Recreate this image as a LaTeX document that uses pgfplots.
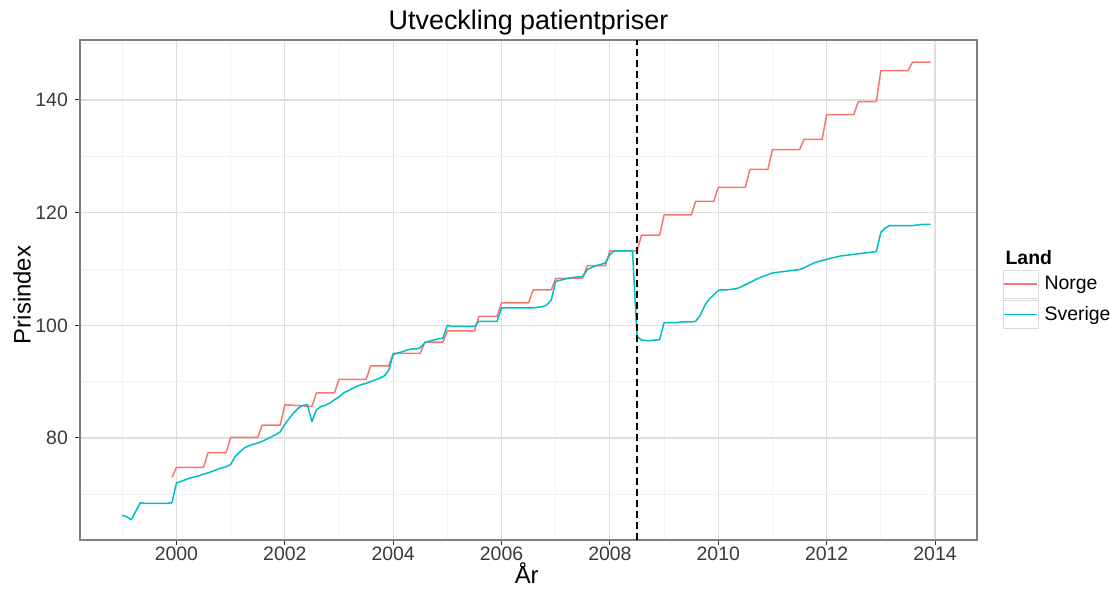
\documentclass[border=0pt]{standalone}
\usepackage{fontspec}
\setmainfont{Liberation Sans}
\usepackage{pgfplots}
\pgfplotsset{compat=1.18}
\definecolor{norge}{HTML}{F8766D}
\definecolor{sverige}{HTML}{00BFC4}
\definecolor{gridmaj}{HTML}{DEDEDE}
\definecolor{gridmin}{HTML}{F3F3F3}
\definecolor{framec}{HTML}{7F7F7F}
\definecolor{ticklab}{HTML}{3A3A3A}
\begin{document}
\begin{tikzpicture}
\path[use as bounding box] (0,0) rectangle (1110bp,590bp);
\begin{axis}[
  scale only axis, width=897bp, height=500bp,
  at={(80bp,50bp)}, anchor=south west,
  xmin=1998.22, xmax=2014.775, ymin=61.89, ymax=150.65,
  xtick={2000,2002,...,2014}, ytick={80,100,120,140},
  minor xtick={1999,2001,...,2013}, minor ytick={70,90,110,130,150},
  grid=both,
  major grid style={gridmaj, line width=1.1bp},
  minor grid style={gridmin, line width=0.8bp},
  axis line style={framec, line width=1.3bp},
  tick pos=left, tick align=outside, major tick length=5bp, minor tick length=0pt,
  major tick style={black!80, line width=1bp},
  x tick label style={/pgf/number format/1000 sep={}},
  /pgf/number format/assume math mode=true,
  ticklabel style={font=\fontsize{19.5}{23}\selectfont, text=ticklab},
  xticklabel style={anchor=north, inner sep=0pt},
  yticklabel style={anchor=east, inner sep=0pt},
  xticklabel shift=2bp, yticklabel shift=7bp,
  title={Utveckling patientpriser},
  title style={font=\fontsize{27}{30}\selectfont, anchor=base, at={(axis description cs:0.5,1)}, yshift=5bp, inner sep=0pt},
  xlabel={År},
  xlabel style={font=\fontsize{24}{28}\selectfont, anchor=base, at={(axis description cs:0.498,-0.088)}, inner sep=0pt},
  ylabel={Prisindex},
  ylabel style={font=\fontsize{24}{28}\selectfont, anchor=center, at={(axis description cs:-0.0647,0.49)}, rotate=0, inner sep=0pt},
  legend style={at={(axis description cs:1.029,0.584)}, anchor=north west, draw=none, fill=none,
    inner sep=0pt, outer sep=0pt, row sep=2bp, column sep=4bp,
    font=\fontsize{19.5}{23}\selectfont},
  legend cell align=left,
  legend image code/.code={
    \draw[draw=gray!30, fill=white, line width=0.6bp, solid] (0bp,-14bp) rectangle (35bp,14bp);
    \draw[#1] (1bp,0bp) -- (34bp,0bp);
  },
]
\addlegendimage{empty legend}
\addlegendentry{\hspace*{-39bp}\textbf{Land}}
\addplot[norge, line width=1.5bp, line join=round] coordinates {
(1999.917,73.0) (2000.000,74.8) (2000.500,74.8) (2000.583,77.4) (2000.917,77.4)
(2001.000,80.1) (2001.500,80.1) (2001.583,82.3) (2001.917,82.3)
(2002.000,85.9) (2002.500,85.6) (2002.583,88.0) (2002.917,88.0)
(2003.000,90.4) (2003.500,90.4) (2003.583,92.8) (2003.917,92.8)
(2004.000,95.0) (2004.500,95.0) (2004.583,97.0) (2004.917,97.0)
(2005.000,99.0) (2005.500,99.0) (2005.583,101.6) (2005.917,101.6)
(2006.000,104.0) (2006.500,104.0) (2006.583,106.3) (2006.917,106.3)
(2007.000,108.3) (2007.500,108.4) (2007.583,110.6) (2007.917,110.6)
(2008.000,113.2) (2008.500,113.2) (2008.583,116.0) (2008.917,116.0)
(2009.000,119.6) (2009.500,119.6) (2009.583,122.0) (2009.917,122.0)
(2010.000,124.5) (2010.500,124.5) (2010.583,127.7) (2010.917,127.7)
(2011.000,131.2) (2011.500,131.2) (2011.583,133.0) (2011.917,133.0)
(2012.000,137.4) (2012.500,137.4) (2012.583,139.7) (2012.917,139.7)
(2013.000,145.2) (2013.500,145.2) (2013.583,146.7) (2013.917,146.7)
};
\addlegendentry{Norge}
\addplot[sverige, line width=1.5bp, line join=round] coordinates {
(1999.000,66.3) (1999.083,66.0) (1999.167,65.5) (1999.250,67.0) (1999.333,68.5) (1999.417,68.4) (1999.500,68.4) (1999.583,68.4) (1999.667,68.4) (1999.750,68.4) (1999.833,68.4) (1999.917,68.5)
(2000.000,72.0) (2000.083,72.3) (2000.167,72.6) (2000.250,72.9) (2000.333,73.1) (2000.417,73.3) (2000.500,73.6) (2000.583,73.8) (2000.667,74.1) (2000.750,74.4) (2000.833,74.7) (2000.917,74.9)
(2001.000,75.3) (2001.083,76.7) (2001.167,77.5) (2001.250,78.2) (2001.333,78.6) (2001.417,78.9) (2001.500,79.1) (2001.583,79.4) (2001.667,79.8) (2001.750,80.2) (2001.833,80.6) (2001.917,81.1)
(2002.000,82.4) (2002.083,83.5) (2002.167,84.5) (2002.250,85.3) (2002.333,85.8) (2002.417,85.9) (2002.500,82.9) (2002.583,85.0) (2002.667,85.6) (2002.750,85.8) (2002.833,86.2) (2002.917,86.8)
(2003.000,87.3) (2003.083,88.0) (2003.167,88.4) (2003.250,88.8) (2003.333,89.2) (2003.417,89.5) (2003.500,89.7) (2003.583,90.0) (2003.667,90.3) (2003.750,90.6) (2003.833,91.0) (2003.917,92.0)
(2004.000,94.8) (2004.083,95.1) (2004.167,95.3) (2004.250,95.6) (2004.333,95.8) (2004.417,95.8) (2004.500,96.0) (2004.583,96.9) (2004.667,97.2) (2004.750,97.4) (2004.833,97.6) (2004.917,97.7)
(2005.000,100.0) (2005.083,99.8) (2005.167,99.8) (2005.250,99.8) (2005.333,99.8) (2005.417,99.8) (2005.500,99.8) (2005.583,100.7) (2005.667,100.7) (2005.750,100.7) (2005.833,100.7) (2005.917,100.7)
(2006.000,103.1) (2006.083,103.1) (2006.167,103.1) (2006.250,103.1) (2006.333,103.1) (2006.417,103.1) (2006.500,103.1) (2006.583,103.1) (2006.667,103.2) (2006.750,103.3) (2006.833,103.6) (2006.917,104.5)
(2007.000,107.8) (2007.083,108.0) (2007.167,108.2) (2007.250,108.4) (2007.333,108.5) (2007.417,108.6) (2007.500,108.7) (2007.583,109.9) (2007.667,110.3) (2007.750,110.6) (2007.833,110.8) (2007.917,111.1)
(2008.000,112.6) (2008.083,113.2) (2008.167,113.2) (2008.250,113.2) (2008.333,113.2) (2008.417,113.2) (2008.500,98.0) (2008.583,97.4) (2008.667,97.3) (2008.750,97.3) (2008.833,97.4) (2008.917,97.4)
(2009.000,100.5) (2009.083,100.5) (2009.167,100.5) (2009.250,100.5) (2009.333,100.6) (2009.417,100.6) (2009.500,100.6) (2009.583,100.7) (2009.667,101.8) (2009.750,103.5) (2009.833,104.7) (2009.917,105.4)
(2010.000,106.2) (2010.083,106.3) (2010.167,106.3) (2010.250,106.4) (2010.333,106.5) (2010.417,106.8) (2010.500,107.2) (2010.583,107.6) (2010.667,108.0) (2010.750,108.4) (2010.833,108.7) (2010.917,109.0)
(2011.000,109.3) (2011.083,109.4) (2011.167,109.5) (2011.250,109.6) (2011.333,109.7) (2011.417,109.8) (2011.500,109.9) (2011.583,110.2) (2011.667,110.6) (2011.750,111.0) (2011.833,111.3) (2011.917,111.5)
(2012.000,111.7) (2012.083,111.9) (2012.167,112.1) (2012.250,112.3) (2012.333,112.4) (2012.417,112.5) (2012.500,112.6) (2012.583,112.7) (2012.667,112.8) (2012.750,112.9) (2012.833,113.0) (2012.917,113.1)
(2013.000,116.5) (2013.083,117.3) (2013.167,117.7) (2013.250,117.7) (2013.333,117.7) (2013.417,117.7) (2013.500,117.7) (2013.583,117.7) (2013.667,117.8) (2013.750,117.9) (2013.833,117.9) (2013.917,117.9)
};
\addlegendentry{Sverige}
\addplot[black, line width=1.8bp, dash pattern=on 7bp off 4bp, forget plot] coordinates {(2008.5,61.89) (2008.5,150.65)};
\end{axis}
\end{tikzpicture}
\end{document}
